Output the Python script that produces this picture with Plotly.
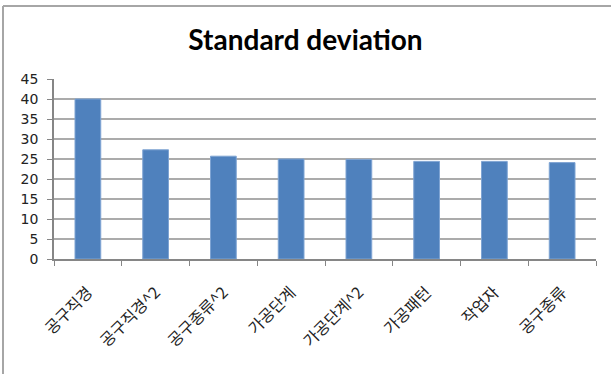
import plotly.graph_objects as go

categories = ["공구직경", "공구직경^2", "공구종류^2", "가공단계", "가공단계^2", "가공패턴", "작업자", "공구종류"]
values = [40.0, 27.3, 25.7, 25.0, 24.9, 24.4, 24.4, 24.1]
y_ticks = [0, 5, 10, 15, 20, 25, 30, 35, 40, 45]

W, H = 611, 374
L, R, T, B = 54, 15, 79, 115
pw, ph = W - L - R, H - T - B

fig = go.Figure(go.Bar(
    x=categories, y=values,
    marker=dict(color="#4F81BD", line=dict(color="#7FA4D3", width=1)),
    width=0.38,
))

bx = (3 - L) / pw
by = (H - B - 6) / ph

fig.update_layout(
    width=W, height=H,
    margin=dict(l=L, r=R, t=T, b=B),
    paper_bgcolor="white", plot_bgcolor="white",
    title=dict(text="<b>Standard deviation</b>", x=0.5, xanchor="center",
               y=1 - 40 / H, yanchor="middle",
               font=dict(family="Lato, Open Sans, sans-serif", size=28, color="black")),
    showlegend=False,
    xaxis=dict(
        tickangle=-45, tickson="boundaries", ticks="outside", ticklen=5,
        tickcolor="#868686", showline=True, linecolor="#868686", linewidth=1.5,
        tickfont=dict(family="Noto Sans CJK KR", size=16, color="#222"),
        ticklabelstandoff=16,
        showgrid=False,
    ),
    yaxis=dict(
        range=[0, 45], tickvals=y_ticks, ticks="outside", ticklen=5,
        tickcolor="#868686", showline=True, linecolor="#868686", linewidth=1.5,
        gridcolor="#ABABAB", gridwidth=1.5, zeroline=False,
        tickfont=dict(family="DejaVu Sans", size=14, color="#222"),
        ticklabelstandoff=6,
    ),
    shapes=[
        dict(type="line", xref="paper", yref="paper", x0=bx, x1=1.2, y0=by, y1=by,
             line=dict(color="#A6A6A6", width=2)),
        dict(type="line", xref="paper", yref="paper", x0=bx, x1=bx, y0=by, y1=-1.0,
             line=dict(color="#A6A6A6", width=2)),
    ],
)

fig.write_html("out.html")
